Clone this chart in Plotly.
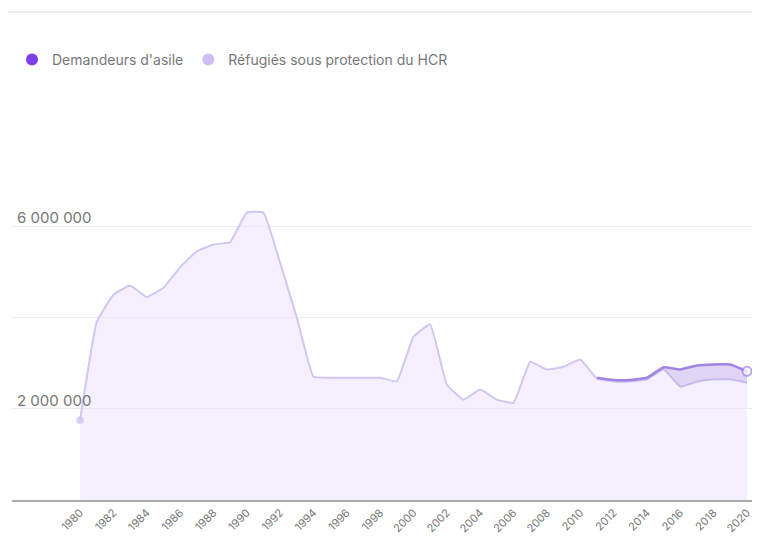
import plotly.graph_objects as go

years = list(range(1980, 2021))
refugees = [1.75, 3.9, 4.5, 4.7, 4.45, 4.65, 5.1, 5.45, 5.6, 5.65,
            6.3, 6.3, 5.2, 4.0, 2.7, 2.68, 2.68, 2.68, 2.68, 2.6,
            3.58, 3.85, 2.53, 2.2, 2.42, 2.2, 2.13, 3.03, 2.86, 2.92,
            3.08, 2.66, 2.6, 2.6, 2.64, 2.86, 2.48, 2.59, 2.64, 2.64, 2.57]
refugees = [v * 1e6 for v in refugees]

asylum_years = list(range(2011, 2021))
asylum = [0.02, 0.03, 0.03, 0.04, 0.05, 0.38, 0.36, 0.33, 0.33, 0.25]
asylum = [v * 1e6 for v in asylum]

tick_years = list(range(1980, 2021, 2))
y_ticks = [0, 2e6, 4e6, 6e6, 8e6]
y_text = ["", "2 000 000", "", "6 000 000", ""]

DARK = "#7b3fe4"
DARK_LINE = "#a084e3"
LIGHT = "#cbc0ef"
LIGHT_LINE = "#d0c8f0"

ref_sub = [refugees[years.index(y)] for y in asylum_years]
total = [r + a for r, a in zip(ref_sub, asylum)]

fig = go.Figure()
fig.add_trace(go.Scatter(
    x=years, y=refugees, mode="lines+markers", fill="tozeroy",
    fillcolor="rgba(236,228,252,0.55)",
    line=dict(color=LIGHT_LINE, width=2, shape="spline", smoothing=0.3),
    marker=dict(size=[7] + [0] * (len(years) - 1), color=LIGHT),
    showlegend=False, hoverinfo="skip"))
fig.add_trace(go.Scatter(
    x=asylum_years, y=ref_sub, mode="lines",
    line=dict(width=0, color=LIGHT_LINE, shape="spline", smoothing=0.3),
    showlegend=False, hoverinfo="skip"))
fig.add_trace(go.Scatter(
    x=asylum_years, y=total, mode="lines+markers", fill="tonexty",
    fillcolor="rgba(170,135,230,0.35)",
    line=dict(color=DARK_LINE, width=2.5, shape="spline", smoothing=0.3),
    marker=dict(size=[0] * (len(asylum_years) - 1) + [9], color="white",
                line=dict(color=DARK_LINE, width=2)),
    showlegend=False, hoverinfo="skip"))

fig.add_trace(go.Scatter(x=[None], y=[None], mode="markers", name="Demandeurs d'asile",
                         marker=dict(size=12, color=DARK)))
fig.add_trace(go.Scatter(x=[None], y=[None], mode="markers", name="Réfugiés sous protection du HCR",
                         marker=dict(size=12, color=LIGHT)))

# page body adds an 8px offset; margins compensate
L, T, R, B = 4, 127, 13, 50
PW, PH = 760 - L - R, 542 - T - B

annotations = [
    dict(x=0.004, y=v, xref="paper", yref="y", text=t, showarrow=False,
         xanchor="left", yanchor="bottom", yshift=-3,
         font=dict(size=15, color="#777"))
    for v, t in zip(y_ticks, y_text) if t
]

fig.update_layout(
    width=760, height=542,
    margin=dict(l=L, r=R, t=T, b=B),
    paper_bgcolor="white", plot_bgcolor="white",
    font=dict(family="Inter, sans-serif", color="#666"),
    legend=dict(orientation="h", xref="container", yref="container",
                x=4 / 760, y=1 - 52 / 542, xanchor="left", yanchor="middle",
                traceorder="normal",
                font=dict(size=14, color="#777"),
                itemclick=False),
    xaxis=dict(range=[1975.92, 2020.48], tickvals=tick_years,
               tickangle=-45, tickfont=dict(size=11, color="#777"),
               showgrid=False, zeroline=False,
               showline=True, linecolor="#aaaaaa", linewidth=2,
               ticks="", fixedrange=True),
    yaxis=dict(range=[0, 8e6], tickvals=y_ticks, showticklabels=False,
               showgrid=True, gridcolor="#ececec", gridwidth=1,
               zeroline=False, showline=False, ticks="", fixedrange=True),
    annotations=annotations,
    shapes=[dict(type="line", xref="paper", yref="paper",
                 x0=-L / PW, x1=(760 - L) / PW,
                 y0=(PH + T - 4) / PH, y1=(PH + T - 4) / PH,
                 line=dict(color="#eeeeee", width=2))],
)

fig.write_html("out.html")
